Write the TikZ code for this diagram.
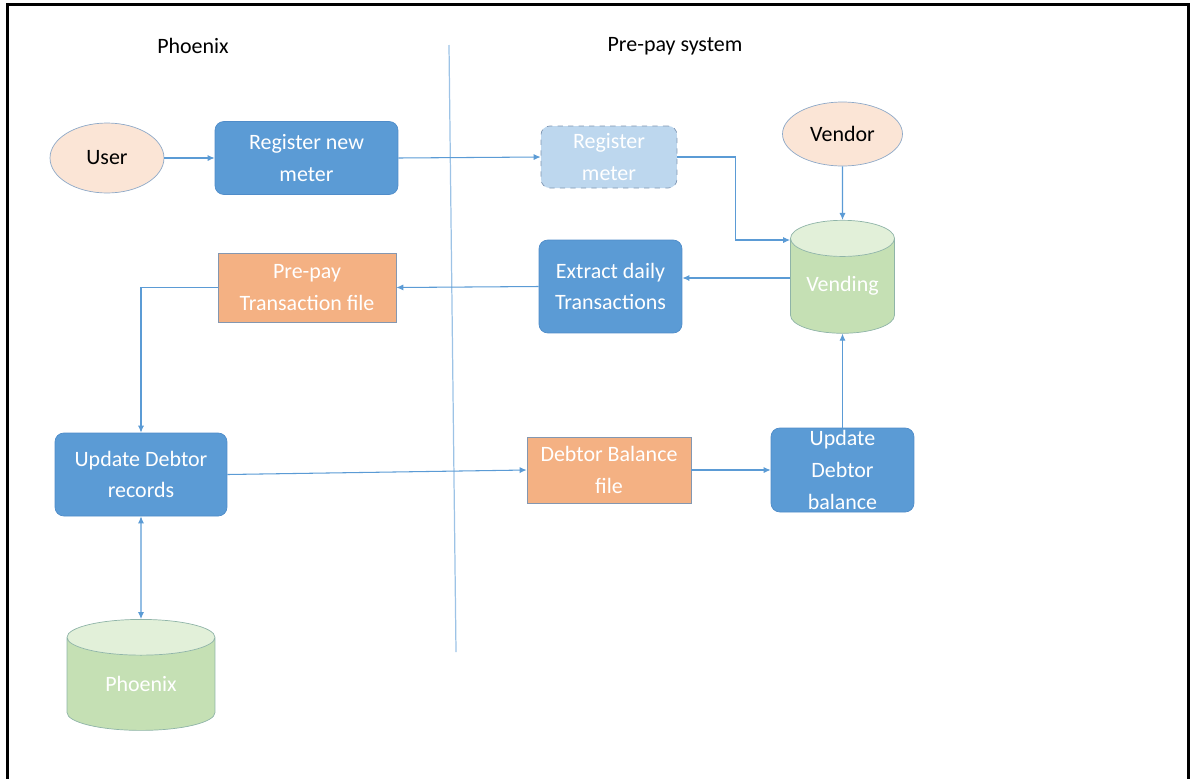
\documentclass[tikz,border=0pt]{standalone}
\usepackage{fontspec}
\setmainfont{Carlito}
\usetikzlibrary{shapes.geometric,arrows.meta}

\definecolor{boxblue}{HTML}{5B9BD5}
\definecolor{blueedge}{HTML}{4F8CC9}
\definecolor{paleblue}{HTML}{BDD7EE}
\definecolor{paleedge}{HTML}{7F96B2}
\definecolor{fileorange}{HTML}{F4B183}
\definecolor{fileedge}{HTML}{8497B0}
\definecolor{actorpeach}{HTML}{FBE5D6}
\definecolor{actoredge}{HTML}{8EA9C8}
\definecolor{storegreen}{HTML}{C5E0B4}
\definecolor{storetop}{HTML}{E2F0D9}
\definecolor{storeedge}{HTML}{8FB4A8}
\definecolor{dividerblue}{HTML}{9DC3E6}

\begin{document}
\begin{tikzpicture}[x=0.02cm,y=-0.02cm,
        every node/.style={font=\fontsize{12.5}{18}\selectfont, align=center},
        process/.style={draw=blueedge, fill=boxblue, rounded corners=5pt, text=white, inner sep=0pt},
        regbox/.style={draw=paleedge, dashed, fill=paleblue, rounded corners=5pt, text=white, inner sep=0pt},
        filebox/.style={draw=fileedge, fill=fileorange, text=white, inner sep=0pt},
        actor/.style={ellipse, draw=actoredge, fill=actorpeach, inner sep=0pt},
        dbstore/.style={cylinder, shape border rotate=90, aspect=0.5, draw=storeedge,
            cylinder uses custom fill, cylinder body fill=storegreen, cylinder end fill=storetop,
            text=white, inner sep=0pt},
        flow/.style={draw=boxblue, line width=0.6pt, -{Latex[length=4pt,width=3.5pt]}}]
        \useasboundingbox (0,0) rectangle (1193,778);

        % frame and lane divider
        \draw[line width=1.7pt] (7.5,800) -- (7.5,4.5) -- (1188,4.5) -- (1188,800);
        \draw[dividerblue, line width=0.7pt] (449,45) -- (456,652);

        \node (phoenixhead) at (193,46) {Phoenix};
        \node (prepayhead) at (675,46) {Pre-pay system};

        \node[actor, minimum width=2.28cm, minimum height=1.4cm] (user) at (107,158) {User};
        \node[process, minimum width=3.66cm, minimum height=1.46cm] (regnew) at (306.5,158) {Register new\\meter};
        \node[regbox, minimum width=2.72cm, minimum height=1.24cm] (regmeter) at (609,157) {Register\\meter};
        \node[actor, minimum width=2.4cm, minimum height=1.28cm] (vendor) at (842.5,134) {Vendor};
        \node[dbstore, minimum width=2.08cm, minimum height=2.26cm] (vending) at (842.5,286) {Vending};
        \node[process, minimum width=2.86cm, minimum height=1.86cm] (extract) at (610.5,286.5) {Extract daily\\Transactions};
        \node[filebox, minimum width=3.56cm, minimum height=1.38cm] (prepayfile) at (307,287.5) {Pre-pay\\Transaction file};
        \node[process, minimum width=3.44cm, minimum height=1.66cm] (upddebtor) at (141,474.5) {Update Debtor\\records};
        \node[dbstore, minimum width=2.96cm, minimum height=2.22cm] (phoenixdb) at (141,684) {Phoenix};
        \node[filebox, minimum width=3.28cm, minimum height=1.32cm] (balfile) at (609,470) {Debtor Balance\\file};
        \node[process, minimum width=2.86cm, minimum height=1.68cm] (updbal) at (842.5,470) {Update\\Debtor\\balance};

        \draw[flow] (user.east) -- (regnew.west);
        \draw[flow] (regnew.east) -- (regmeter.west);
        \draw[flow] (regmeter.east) -- ++(58,0) |- ([yshift=0.92cm]vending.west);
        \draw[flow] (vendor.south) -- (vending.north);
        \draw[flow] ([yshift=0.16cm]vending.west) -- ([yshift=0.16cm]vending.west -| extract.east);
        \draw[flow] (extract.west) -- (prepayfile.east);
        \draw[flow] (prepayfile.west) -| (upddebtor.north);
        \draw[flow, {Latex[length=4pt,width=3.5pt]}-{Latex[length=4pt,width=3.5pt]}] (upddebtor.south) -- (phoenixdb.north);
        \draw[flow] (upddebtor.east) -- (balfile.west);
        \draw[flow] (balfile.east) -- (updbal.west);
        \draw[flow] (updbal.north) -- (vending.south);
    \end{tikzpicture}
\end{document}
